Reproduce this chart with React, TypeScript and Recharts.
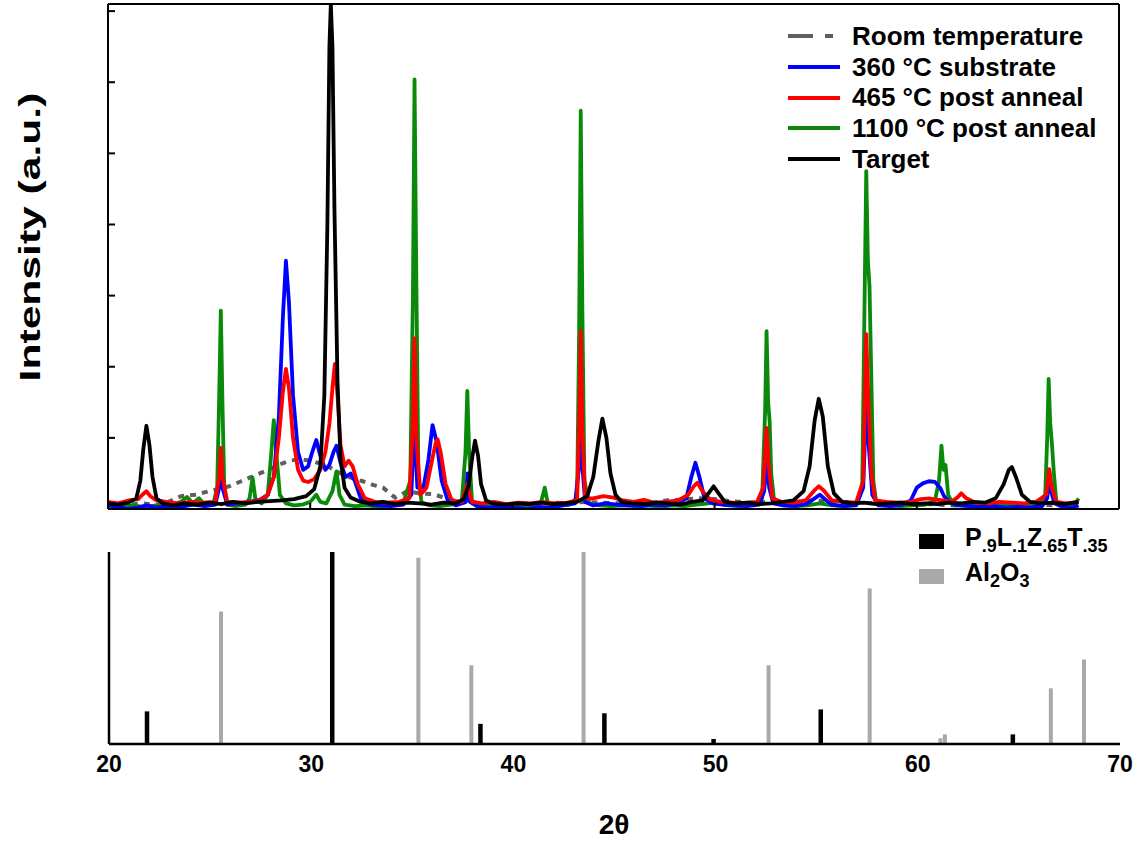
import { LineChart, Line, XAxis, YAxis } from "recharts";

// 2θ / intensity pairs (intensity in arbitrary units)
const roomTemp: [number, number][] = [
  [20.0, 0.07], [20.8, 0.05], [21.6, 0.08], [22.4, 0.06], [23.0, 0.1], [23.6, 0.18], [24.3, 0.2],
  [25.0, 0.25], [25.6, 0.29], [26.0, 0.32], [26.5, 0.38], [27.0, 0.44], [27.5, 0.5], [28.0, 0.56],
  [28.5, 0.63], [29.0, 0.68], [29.5, 0.7], [30.0, 0.68], [30.5, 0.64], [31.0, 0.58], [31.5, 0.5],
  [32.0, 0.44], [32.6, 0.39], [33.1, 0.34], [33.6, 0.3], [34.2, 0.16], [34.8, 0.25], [35.4, 0.22],
  [36.1, 0.21], [36.8, 0.14], [37.5, 0.1], [38.2, 0.08], [38.8, 0.09], [39.6, 0.06], [40.4, 0.08],
  [41.2, 0.07], [42.0, 0.09], [42.8, 0.08], [43.6, 0.1], [44.4, 0.09], [45.2, 0.08], [46.0, 0.1],
  [46.8, 0.08], [47.6, 0.12], [48.4, 0.13], [49.2, 0.15], [50.0, 0.14], [50.8, 0.11], [51.6, 0.09],
  [52.4, 0.1], [53.2, 0.08], [54.0, 0.1], [54.8, 0.12], [55.6, 0.11], [56.4, 0.1], [57.2, 0.09],
  [58.0, 0.08], [58.8, 0.07], [59.6, 0.06], [60.4, 0.07], [61.2, 0.06], [62.0, 0.05], [62.8, 0.06],
  [63.6, 0.05], [64.4, 0.06], [65.2, 0.05], [66.0, 0.06], [66.8, 0.05], [67.6, 0.06], [68.0, 0.05],
];

const sub360: [number, number][] = [
  [20.0, 0.05], [20.5, 0.03], [21.0, 0.0], [21.5, 0.02], [21.9, 0.05], [22.4, 0.02], [23.0, 0.04],
  [23.6, 0.03], [24.2, 0.06], [24.8, 0.04], [25.3, 0.06], [25.5, 0.3], [25.58, 0.7], [25.66, 0.3],
  [25.9, 0.06], [26.5, 0.08], [27.0, 0.1], [27.5, 0.13], [27.9, 0.2], [28.2, 0.45], [28.45, 1.3],
  [28.65, 2.7], [28.8, 3.49], [28.95, 2.9], [29.15, 1.6], [29.4, 0.8], [29.65, 0.55], [29.9, 0.6],
  [30.1, 0.8], [30.3, 0.97], [30.5, 0.75], [30.75, 0.55], [30.95, 0.62], [31.15, 0.8], [31.3, 0.89],
  [31.5, 0.65], [31.75, 0.45], [32.0, 0.5], [32.2, 0.4], [32.5, 0.15], [32.9, 0.07], [33.4, 0.05],
  [34.0, 0.04], [34.6, 0.06], [35.0, 0.2], [35.15, 1.2], [35.3, 0.3], [35.6, 0.3], [35.85, 0.7],
  [36.05, 1.18], [36.25, 0.95], [36.5, 0.4], [36.8, 0.12], [37.2, 0.05], [37.7, 0.1], [37.78, 0.5],
  [37.9, 0.1], [38.3, 0.03], [38.9, 0.02], [39.5, 0.04], [40.1, 0.02], [40.7, 0.0], [41.3, 0.03],
  [41.9, 0.02], [42.5, 0.05], [43.1, 0.08], [43.3, 0.6], [43.38, 1.8], [43.46, 0.6], [43.6, 0.1],
  [44.0, 0.05], [44.6, 0.08], [45.2, 0.06], [45.8, 0.05], [46.4, 0.04], [47.0, 0.06], [47.6, 0.05],
  [48.2, 0.08], [48.6, 0.15], [48.85, 0.45], [49.05, 0.65], [49.25, 0.45], [49.5, 0.15], [49.9, 0.08],
  [50.4, 0.06], [51.0, 0.05], [51.6, 0.04], [52.2, 0.06], [52.45, 0.25], [52.57, 0.63], [52.7, 0.3],
  [52.9, 0.08], [53.4, 0.05], [54.0, 0.04], [54.6, 0.08], [55.0, 0.16], [55.2, 0.2], [55.45, 0.14],
  [55.8, 0.06], [56.4, 0.04], [57.0, 0.05], [57.35, 0.3], [57.5, 1.52], [57.62, 0.9], [57.8, 0.2],
  [58.1, 0.05], [58.7, 0.04], [59.3, 0.06], [59.7, 0.12], [60.0, 0.3], [60.3, 0.36], [60.6, 0.39],
  [60.9, 0.38], [61.15, 0.3], [61.35, 0.18], [61.6, 0.1], [62.0, 0.05], [62.6, 0.04], [63.2, 0.03],
  [63.8, 0.04], [64.4, 0.02], [65.0, 0.03], [65.6, 0.02], [66.2, 0.04], [66.45, 0.15], [66.55, 0.4],
  [66.65, 0.25], [66.8, 0.08], [67.2, 0.03], [67.7, 0.02], [68.0, 0.05],
];

const anneal465: [number, number][] = [
  [20.0, 0.1], [20.5, 0.08], [21.0, 0.12], [21.5, 0.14], [21.7, 0.2], [21.9, 0.25], [22.1, 0.18],
  [22.4, 0.12], [22.9, 0.1], [23.5, 0.08], [24.1, 0.1], [24.7, 0.09], [25.3, 0.1], [25.5, 0.45],
  [25.58, 0.86], [25.66, 0.45], [25.9, 0.1], [26.5, 0.09], [27.0, 0.1], [27.5, 0.12], [27.9, 0.2],
  [28.2, 0.45], [28.45, 1.0], [28.65, 1.65], [28.8, 1.97], [28.95, 1.7], [29.15, 1.0], [29.4, 0.55],
  [29.65, 0.4], [29.9, 0.38], [30.2, 0.42], [30.5, 0.55], [30.75, 0.8], [30.95, 1.2], [31.1, 1.7],
  [31.22, 2.04], [31.35, 1.6], [31.5, 0.9], [31.7, 0.6], [31.9, 0.68], [32.1, 0.6], [32.35, 0.35],
  [32.7, 0.15], [33.2, 0.1], [33.8, 0.09], [34.4, 0.1], [34.9, 0.15], [35.08, 1.2], [35.16, 2.4],
  [35.25, 1.0], [35.45, 0.2], [35.75, 0.3], [36.0, 0.65], [36.2, 0.92], [36.3, 0.98], [36.45, 0.8],
  [36.7, 0.35], [37.0, 0.12], [37.5, 0.1], [37.77, 0.35], [38.0, 0.1], [38.5, 0.08], [39.1, 0.1],
  [39.7, 0.07], [40.3, 0.09], [40.9, 0.08], [41.5, 0.1], [42.1, 0.08], [42.7, 0.09], [43.2, 0.12],
  [43.3, 1.2], [43.38, 2.5], [43.46, 1.1], [43.6, 0.15], [44.0, 0.15], [44.5, 0.18], [45.0, 0.16],
  [45.5, 0.12], [46.0, 0.1], [46.5, 0.13], [47.0, 0.09], [47.6, 0.1], [48.2, 0.12], [48.7, 0.2],
  [49.0, 0.33], [49.15, 0.37], [49.4, 0.25], [49.8, 0.13], [50.3, 0.1], [50.9, 0.09], [51.5, 0.08],
  [52.1, 0.1], [52.4, 0.3], [52.52, 0.9], [52.57, 1.14], [52.68, 0.6], [52.85, 0.15], [53.3, 0.1],
  [53.9, 0.09], [54.5, 0.12], [54.9, 0.25], [55.15, 0.32], [55.4, 0.26], [55.8, 0.12], [56.4, 0.1],
  [57.0, 0.09], [57.35, 0.4], [57.5, 2.46], [57.6, 1.6], [57.75, 0.5], [57.95, 0.12], [58.5, 0.1],
  [59.1, 0.09], [59.7, 0.1], [60.2, 0.14], [60.6, 0.15], [61.0, 0.13], [61.3, 0.12], [61.7, 0.1],
  [62.0, 0.16], [62.2, 0.22], [62.45, 0.15], [62.9, 0.09], [63.5, 0.08], [64.1, 0.1], [64.7, 0.09],
  [65.3, 0.08], [65.9, 0.1], [66.4, 0.2], [66.55, 0.56], [66.68, 0.3], [66.9, 0.1], [67.4, 0.08],
  [68.0, 0.1],
];

const anneal1100: [number, number][] = [
  [20.0, 0.04], [20.6, 0.03], [21.2, 0.05], [21.8, 0.03], [22.4, 0.05], [23.0, 0.04], [23.6, 0.1],
  [23.9, 0.17], [24.2, 0.08], [24.5, 0.15], [24.8, 0.05], [25.2, 0.06], [25.4, 0.3], [25.5, 1.6],
  [25.58, 2.79], [25.66, 1.5], [25.75, 0.3], [25.9, 0.06], [26.3, 0.04], [26.8, 0.06], [27.0, 0.15],
  [27.15, 0.44], [27.3, 0.12], [27.6, 0.08], [27.9, 0.2], [28.05, 0.7], [28.2, 1.25], [28.35, 0.7],
  [28.5, 0.2], [28.8, 0.08], [29.2, 0.05], [29.6, 0.06], [30.0, 0.1], [30.3, 0.2], [30.5, 0.1],
  [30.8, 0.08], [31.1, 0.25], [31.3, 0.53], [31.45, 0.2], [31.7, 0.06], [32.2, 0.04], [32.8, 0.05],
  [33.4, 0.03], [34.0, 0.05], [34.6, 0.08], [34.95, 0.4], [35.08, 3.0], [35.16, 6.04], [35.25, 3.2],
  [35.35, 0.5], [35.5, 0.1], [35.9, 0.05], [36.4, 0.04], [37.0, 0.06], [37.5, 0.12], [37.68, 0.8],
  [37.77, 1.66], [37.86, 0.8], [38.0, 0.12], [38.4, 0.05], [39.0, 0.04], [39.6, 0.03], [40.2, 0.05],
  [40.8, 0.04], [41.4, 0.08], [41.6, 0.3], [41.75, 0.08], [42.2, 0.05], [42.8, 0.06], [43.2, 0.15],
  [43.3, 2.5], [43.38, 5.6], [43.46, 2.8], [43.56, 0.4], [43.8, 0.08], [44.3, 0.05], [44.9, 0.04],
  [45.5, 0.05], [46.1, 0.04], [46.7, 0.05], [47.3, 0.03], [47.9, 0.05], [48.5, 0.04], [49.1, 0.06],
  [49.7, 0.08], [50.2, 0.1], [50.7, 0.05], [51.3, 0.04], [51.9, 0.06], [52.35, 0.15], [52.5, 1.4],
  [52.57, 2.5], [52.65, 1.5], [52.72, 1.24], [52.8, 0.5], [52.95, 0.1], [53.4, 0.05], [54.0, 0.04],
  [54.6, 0.05], [55.2, 0.08], [55.8, 0.05], [56.4, 0.04], [57.0, 0.06], [57.3, 0.3], [57.42, 3.0],
  [57.5, 4.75], [57.58, 3.5], [57.66, 3.14], [57.74, 2.0], [57.85, 0.4], [58.0, 0.08], [58.6, 0.05],
  [59.2, 0.04], [59.8, 0.05], [60.4, 0.06], [60.9, 0.12], [61.1, 0.4], [61.22, 0.89], [61.32, 0.55],
  [61.42, 0.62], [61.55, 0.2], [61.8, 0.06], [62.4, 0.05], [63.0, 0.04], [63.6, 0.05], [64.2, 0.04],
  [64.8, 0.06], [65.4, 0.05], [66.0, 0.06], [66.35, 0.2], [66.45, 1.0], [66.52, 1.83], [66.6, 1.2],
  [66.68, 0.93], [66.78, 0.5], [66.9, 0.1], [67.3, 0.06], [67.8, 0.05], [68.0, 0.15],
];

const target: [number, number][] = [
  [20.0, 0.08], [20.5, 0.06], [21.0, 0.09], [21.4, 0.15], [21.6, 0.4], [21.75, 0.85], [21.9, 1.17],
  [22.05, 0.9], [22.2, 0.45], [22.4, 0.15], [22.7, 0.08], [23.2, 0.05], [23.8, 0.08], [24.4, 0.06],
  [25.0, 0.09], [25.6, 0.07], [26.2, 0.1], [26.8, 0.08], [27.4, 0.1], [28.0, 0.11], [28.6, 0.12],
  [29.2, 0.14], [29.8, 0.18], [30.2, 0.28], [30.5, 0.6], [30.7, 1.6], [30.85, 4.0], [30.95, 6.5],
  [31.02, 7.1], [31.1, 6.5], [31.2, 4.2], [31.35, 1.8], [31.5, 0.7], [31.7, 0.3], [32.0, 0.16],
  [32.5, 0.1], [33.0, 0.08], [33.6, 0.1], [34.2, 0.07], [34.8, 0.09], [35.4, 0.08], [36.0, 0.06],
  [36.6, 0.09], [37.2, 0.08], [37.6, 0.14], [37.85, 0.35], [38.0, 0.7], [38.15, 0.96], [38.3, 0.75],
  [38.45, 0.35], [38.7, 0.12], [39.0, 0.08], [39.6, 0.06], [40.2, 0.08], [40.8, 0.07], [41.4, 0.09],
  [42.0, 0.07], [42.6, 0.08], [43.2, 0.1], [43.7, 0.18], [44.0, 0.45], [44.25, 0.95], [44.45, 1.27],
  [44.65, 1.0], [44.85, 0.5], [45.1, 0.2], [45.4, 0.1], [45.9, 0.08], [46.5, 0.07], [47.1, 0.09],
  [47.7, 0.08], [48.3, 0.06], [48.9, 0.1], [49.4, 0.12], [49.7, 0.22], [49.95, 0.32], [50.2, 0.22],
  [50.5, 0.1], [51.0, 0.08], [51.6, 0.09], [52.2, 0.07], [52.8, 0.08], [53.4, 0.1], [53.9, 0.12],
  [54.4, 0.25], [54.7, 0.6], [54.95, 1.25], [55.15, 1.55], [55.35, 1.3], [55.6, 0.6], [55.9, 0.22],
  [56.3, 0.1], [56.8, 0.08], [57.4, 0.09], [58.0, 0.07], [58.6, 0.08], [59.2, 0.09], [59.8, 0.07],
  [60.4, 0.08], [61.0, 0.07], [61.6, 0.09], [62.2, 0.08], [62.8, 0.1], [63.4, 0.09], [63.9, 0.15],
  [64.3, 0.35], [64.55, 0.55], [64.7, 0.59], [64.9, 0.45], [65.2, 0.2], [65.6, 0.1], [66.1, 0.08],
  [66.7, 0.09], [67.3, 0.07], [68.0, 0.1],
];

// reference stick patterns (relative intensity, %)
const plztPos = [21.88, 31.04, 38.37, 44.5, 49.9, 55.2, 64.7];
const plztRel = [17, 100, 10.5, 16, 2.6, 18, 5];
const aloPos = [25.54, 35.3, 37.92, 43.47, 52.62, 57.62, 61.12, 61.34, 66.58, 68.22];
const aloRel = [69, 97, 41, 100, 41, 81, 3, 5, 29, 44];

const xTicks = [20, 30, 40, 50, 60, 70];
const yTicks = [1, 2, 3, 4, 5, 6, 7];

const toPts = (arr: [number, number][]) => arr.map(([x, y]) => ({ x, y }));
const stick = (x: number, h: number) => [{ x, y: 0 }, { x, y: h }];

const series = [
  { name: "Room temperature", data: roomTemp, color: "#5f5f5f", dash: "6 6" },
  { name: "1100 °C post anneal", data: anneal1100, color: "#0a8a0a" },
  { name: "360 °C substrate", data: sub360, color: "#0000ff" },
  { name: "465 °C post anneal", data: anneal465, color: "#ff0000" },
  { name: "Target", data: target, color: "#000000" },
];

const legendOrder = [0, 2, 3, 1, 4];

const FONT = "'Liberation Sans', Arial, sans-serif";
const subStyle = { fontSize: 18, verticalAlign: "-6px" };

// keeps the tick marks, drops the label text
const NoLabel = () => <g />;

export default function App() {
  return (
    <div style={{ position: "absolute", left: 0, top: 0, width: 1136, height: 845, background: "#fff", fontFamily: FONT }}>
      <div style={{ position: "absolute", left: 0, top: 0 }}>
        <LineChart width={1136} height={520} margin={{ top: 3, right: 16, bottom: 11, left: 108 }}>
          <XAxis
            dataKey="x"
            type="number"
            domain={[20, 70]}
            ticks={xTicks}
            mirror
            tick={NoLabel}
            tickSize={6}
            height={1}
            allowDataOverflow
            axisLine={{ stroke: "#000", strokeWidth: 2 }}
            tickLine={{ stroke: "#000", strokeWidth: 2 }}
          />
          <XAxis xAxisId="top" orientation="top" dataKey="x" type="number" domain={[20, 70]} height={1} tick={false} tickLine={false} axisLine={{ stroke: "#000", strokeWidth: 2 }} />
          <YAxis
            type="number"
            domain={[0, 7.1]}
            ticks={yTicks}
            mirror
            tick={NoLabel}
            tickSize={7}
            width={1}
            allowDataOverflow
            axisLine={{ stroke: "#000", strokeWidth: 2 }}
            tickLine={{ stroke: "#000", strokeWidth: 2 }}
          />
          <YAxis yAxisId="right" orientation="right" type="number" domain={[0, 7.1]} width={1} tick={false} tickLine={false} axisLine={{ stroke: "#000", strokeWidth: 2 }} />
          {series.map((s) => (
            <Line
              key={s.name}
              data={toPts(s.data)}
              dataKey="y"
              type="linear"
              stroke={s.color}
              strokeWidth={s.dash ? 4 : 3.8}
              strokeDasharray={s.dash}
              strokeLinejoin="round"
              dot={false}
              activeDot={false}
              isAnimationActive={false}
            />
          ))}
        </LineChart>
      </div>

      <div style={{ position: "absolute", left: 0, top: 520 }}>
        <LineChart width={1136} height={325} margin={{ top: 32, right: 16, bottom: 0, left: 108 }}>
          <XAxis
            xAxisId="inner"
            dataKey="x"
            type="number"
            domain={[20, 70]}
            ticks={xTicks}
            mirror
            tick={NoLabel}
            tickSize={6}
            height={1}
            axisLine={{ stroke: "#000", strokeWidth: 2.5 }}
            tickLine={{ stroke: "#000", strokeWidth: 2 }}
          />
          <XAxis
            dataKey="x"
            type="number"
            domain={[20, 70]}
            ticks={xTicks}
            tickSize={6}
            tickMargin={6}
            height={101}
            tickLine={false}
            axisLine={false}
            tick={{ fill: "#000", fontSize: 23, fontWeight: 700, fontFamily: FONT }}
          />
          <YAxis type="number" domain={[0, 100]} width={1} tick={false} tickLine={false} axisLine={{ stroke: "#000", strokeWidth: 2.5 }} />
          {aloPos.map((p, i) => (
            <Line key={"a" + p} data={stick(p, aloRel[i])} dataKey="y" stroke="#a9a9a9" strokeWidth={4} dot={false} activeDot={false} isAnimationActive={false} />
          ))}
          {plztPos.map((p, i) => (
            <Line key={"p" + p} data={stick(p, plztRel[i])} dataKey="y" stroke="#000" strokeWidth={4.5} dot={false} activeDot={false} isAnimationActive={false} />
          ))}
        </LineChart>
      </div>

      {/* legend, top panel */}
      <div style={{ position: "absolute", left: 788, top: 21, fontSize: 26, fontWeight: 700, lineHeight: "30.7px", color: "#000" }}>
        {legendOrder.map((k) => {
          const s = series[k];
          return (
            <div key={s.name} style={{ display: "flex", alignItems: "center", height: 30.7 }}>
              <svg width={52} height={6} style={{ marginRight: 12 }}>
                <line x1={0} y1={3} x2={52} y2={3} stroke={s.color} strokeWidth={4} strokeDasharray={s.dash ? "25 12 8 100" : undefined} />
              </svg>
              <span>{s.name}</span>
            </div>
          );
        })}
      </div>

      {/* legend, bottom panel */}
      <div style={{ position: "absolute", left: 919, top: 524, fontSize: 25, fontWeight: 700, color: "#000", lineHeight: "28px" }}>
        <div style={{ display: "flex", alignItems: "center", height: 34 }}>
          <div style={{ width: 25, height: 15, background: "#000", marginRight: 21 }} />
          <span>
            P<span style={subStyle}>.9</span>L<span style={subStyle}>.1</span>Z<span style={subStyle}>.65</span>T<span style={subStyle}>.35</span>
          </span>
        </div>
        <div style={{ display: "flex", alignItems: "center", height: 36 }}>
          <div style={{ width: 25, height: 15, background: "#a9a9a9", marginRight: 21 }} />
          <span>
            Al<span style={subStyle}>2</span>O<span style={subStyle}>3</span>
          </span>
        </div>
      </div>

      {/* axis titles */}
      <div
        style={{
          position: "absolute",
          left: 30,
          top: 237,
          transform: "translate(-50%, -50%) rotate(-90deg) scaleX(1.42)",
          fontSize: 30,
          fontWeight: 700,
          whiteSpace: "nowrap",
        }}
      >
        Intensity (a.u.)
      </div>
      <div
        style={{
          position: "absolute",
          left: 614,
          top: 825,
          transform: "translate(-50%, -50%)",
          fontSize: 28,
          fontWeight: 700,
          whiteSpace: "nowrap",
        }}
      >
        2θ
      </div>
    </div>
  );
}
